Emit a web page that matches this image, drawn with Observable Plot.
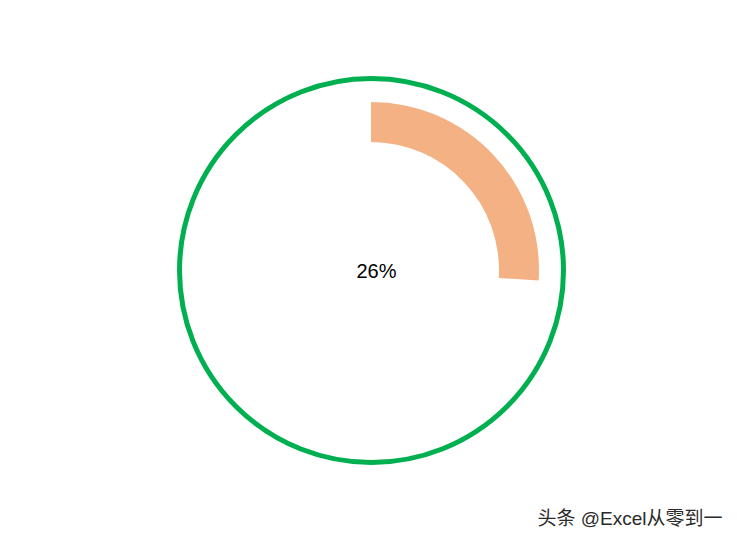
<!DOCTYPE html>
<html>
<head>
<meta charset="utf-8">
<script src="https://cdn.jsdelivr.net/npm/d3@7"></script>
<script src="https://cdn.jsdelivr.net/npm/@observablehq/plot@0.6"></script>
<style>
  body { margin: 0; background: #fff; }
  #chart { width: 737px; height: 542px; }
</style>
</head>
<body>
<div id="chart"></div>
<script>
// Data
const labels = ["完成率"];
const values = [0.26];
const valueLabels = ["26%"];
const watermark = ["头条 @Excel从零到一"];

const ringColor = "#00B050";
const arcColor = "#F4B183";

const cx = 371, cy = 270, R = 192;

const data = labels.map((l, i) => ({label: l, value: values[i], text: valueLabels[i]}));

// custom arc mark using Plot scales
function progressArc(data, {inner, outer, fill}) {
  return (index, scales, channels, dimensions, context) => {
    const svg = d3.create("svg:g");
    const x0 = scales.x(0), y0 = scales.y(0);
    const unit = scales.x(1) - scales.x(0);
    const arc = d3.arc()
      .innerRadius(inner * unit)
      .outerRadius(outer * unit)
      .startAngle(0);
    svg.selectAll("path")
      .data(data)
      .join("path")
      .attr("transform", `translate(${x0},${y0})`)
      .attr("d", d => arc({endAngle: 2 * Math.PI * d.value}))
      .attr("fill", fill);
    return svg.node();
  };
}

const chart = Plot.plot({
  width: 737,
  height: 542,
  margin: 0,
  x: {domain: [-1, 1], range: [cx - R, cx + R], axis: null},
  y: {domain: [-1, 1], range: [cy + R, cy - R], axis: null},
  style: {background: "#fff"},
  marks: [
    Plot.dot([0], {x: 0, y: 0, r: R, stroke: ringColor, strokeWidth: 5, fill: "none"}),
    progressArc(data, {inner: 128 / 192, outer: 168 / 192, fill: arcColor}),
    Plot.text(data, {x: 0, y: 0, text: "text", dx: 5, dy: 1, fontSize: 20, fill: "#000",
      fontFamily: "Liberation Sans, Arial, sans-serif"}),
    Plot.text(watermark, {frameAnchor: "bottom-right", text: d => d, dx: -15, dy: -18,
      fontSize: 19, fill: "#2a2a2a", fontFamily: "Liberation Sans, Noto Sans CJK SC, sans-serif"})
  ]
});
document.getElementById("chart").appendChild(chart);
</script>
</body>
</html>
